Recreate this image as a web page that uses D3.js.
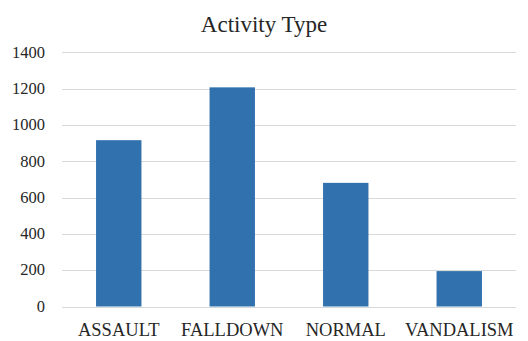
<!DOCTYPE html>
<html>
<head>
<meta charset="utf-8">
<script src="https://cdn.jsdelivr.net/npm/d3@7"></script>
</head>
<body style="margin:0">
<svg id="chart" width="528" height="341"></svg>
<script>
// Activity counts by type
const categories = ["ASSAULT", "FALLDOWN", "NORMAL", "VANDALISM"];
const counts = [916, 1207, 681, 195];
const yTicks = [0, 200, 400, 600, 800, 1000, 1200, 1400];
const title = "Activity Type";

const FONT = "'Liberation Serif', 'Times New Roman', serif";
const TEXT_COLOR = "#262626";

const svg = d3.select("#chart");
const margin = { left: 62, right: 12, top: 52.3, bottom: 34.5 };
const W = 528, H = 341;

const x = d3.scaleBand()
  .domain(categories)
  .range([margin.left, W - margin.right])
  .paddingInner(0.6)
  .paddingOuter(0.3);

const y = d3.scaleLinear()
  .domain([0, 1400])
  .range([H - margin.bottom, margin.top]);

// Horizontal gridlines
svg.append("g")
  .selectAll("line")
  .data(yTicks)
  .join("line")
  .attr("x1", margin.left)
  .attr("x2", W - margin.right)
  .attr("y1", d => Math.round(y(d)) + 0.5)
  .attr("y2", d => Math.round(y(d)) + 0.5)
  .attr("stroke", "#d9d9d9")
  .attr("stroke-width", 1);

// Bars
svg.append("g")
  .selectAll("rect")
  .data(categories)
  .join("rect")
  .attr("x", d => x(d))
  .attr("width", x.bandwidth())
  .attr("y", (d, i) => y(counts[i]))
  .attr("height", (d, i) => y(0) - y(counts[i]))
  .attr("fill", "#3172ae");

// Y axis labels
const yFmt = d3.format("d");
svg.append("g")
  .selectAll("text")
  .data(yTicks)
  .join("text")
  .attr("x", margin.left - 17)
  .attr("y", d => y(d))
  .attr("dy", "0.32em")
  .attr("text-anchor", "end")
  .attr("font-size", 16.5)
  .attr("fill", TEXT_COLOR)
  .style("font-family", FONT)
  .text(yFmt);

// X axis labels, centred under each band
svg.append("g")
  .selectAll("text")
  .data(categories)
  .join("text")
  .attr("x", d => x(d) + x.bandwidth() / 2)
  .attr("y", y(0) + 16)
  .attr("dy", "0.71em")
  .attr("text-anchor", "middle")
  .attr("font-size", 18.5)
  .attr("fill", TEXT_COLOR)
  .style("font-family", FONT)
  .text(d => d);

// Title, centred on the whole chart
svg.append("text")
  .attr("x", W / 2)
  .attr("y", 31.5)
  .attr("text-anchor", "middle")
  .attr("font-size", 23)
  .attr("fill", TEXT_COLOR)
  .style("font-family", FONT)
  .text(title);
</script>
</body>
</html>
